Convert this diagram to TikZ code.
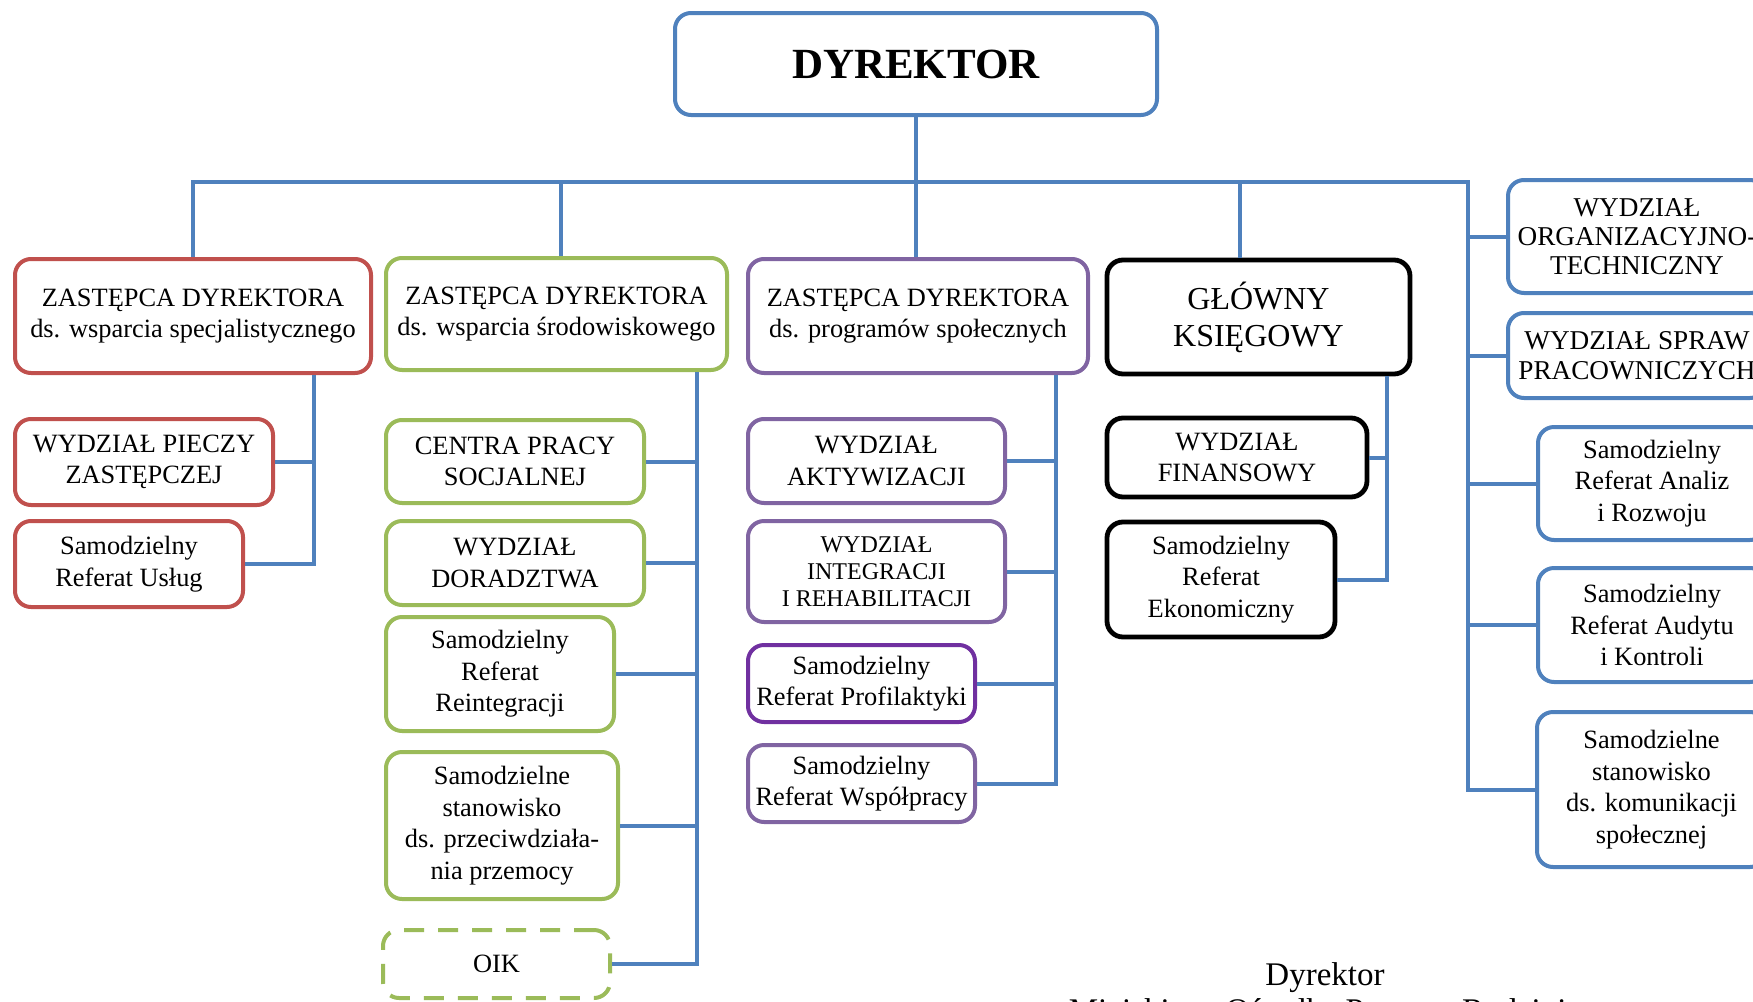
\documentclass[tikz,border=0pt]{standalone}
\usepackage{fontspec}
\setmainfont{Liberation Serif}
\definecolor{lblue}{HTML}{4F81BD}
\definecolor{cred}{HTML}{C0504D}
\definecolor{cgreen}{HTML}{9BBB59}
\definecolor{cpurple}{HTML}{8064A2}
\definecolor{cdpurple}{HTML}{7030A0}
\begin{document}
\begin{tikzpicture}[x=0.5pt,y=-0.5pt,
  box/.style={draw, line width=2pt, rounded corners=8pt, align=center, inner sep=1pt, fill=white,
    font=\fontsize{13.2}{15.8}\selectfont},
  wh/.style 2 args={minimum width=#1, minimum height=#2},
  redbox/.style={box, draw=cred},
  greenbox/.style={box, draw=cgreen},
  purplebox/.style={box, draw=cpurple},
  blackbox/.style={box, draw=black, line width=2.4pt},
  bluebox/.style={box, draw=lblue},
  conn/.style={draw=lblue, line width=2pt},
  sig/.style={font=\fontsize{16.5}{18}\selectfont, anchor=base, inner sep=0pt}
]
\useasboundingbox (0,0) rectangle (1753,1002);
\clip (0,0) rectangle (1753,1002);

% top
\node[bluebox, wh={241pt}{51pt}, font=\fontsize{21.5}{24}\selectfont\bfseries] (d) at (916,64) {DYREKTOR};

% red column
\node[redbox, wh={178pt}{57pt}] (r0) at (193,316) {ZASTĘPCA DYREKTORA\\ds. wsparcia specjalistycznego};
\node[redbox, wh={129pt}{43pt}] (r1) at (144,462) {WYDZIAŁ PIECZY\\ZASTĘPCZEJ};
\node[redbox, wh={114pt}{43pt}] (r2) at (129,564) {Samodzielny\\Referat Usług};

% green column
\node[greenbox, wh={170.5pt}{56pt}] (g0) at (556.5,314) {ZASTĘPCA DYREKTORA\\ds. wsparcia środowiskowego};
\node[greenbox, wh={129pt}{41.5pt}] (g1) at (515,461.5) {CENTRA PRACY\\SOCJALNEJ};
\node[greenbox, wh={129pt}{42pt}] (g2) at (515,563) {WYDZIAŁ\\DORADZTWA};
\node[greenbox, wh={114pt}{57pt}] (g3) at (500,674) {Samodzielny\\Referat\\Reintegracji};
\node[greenbox, wh={116pt}{73.5pt}] (g4) at (502,825.5) {Samodzielne\\stanowisko\\ds. przeciwdziała-\\nia przemocy};
\node[greenbox, wh={113.5pt}{34pt}, dash pattern=on 10pt off 7pt] (g5) at (496.5,964) {OIK};

% purple column
\node[purplebox, wh={170pt}{57pt}] (p0) at (918,316) {ZASTĘPCA DYREKTORA\\ds. programów społecznych};
\node[purplebox, wh={128.5pt}{42pt}] (p1) at (876.5,461) {WYDZIAŁ\\AKTYWIZACJI};
\node[purplebox, wh={128.5pt}{50.5pt}, font=\fontsize{12}{13.6}\selectfont] (p2) at (876.5,571.5) {WYDZIAŁ\\INTEGRACJI\\I REHABILITACJI};
\node[box, draw=cdpurple, wh={113.5pt}{38.5pt}] (p3) at (861.5,683.5) {Samodzielny\\Referat Profilaktyki};
\node[purplebox, wh={113.5pt}{38.5pt}] (p4) at (861.5,783.5) {Samodzielny\\Referat Współpracy};

% black column
\node[blackbox, wh={151.5pt}{57pt}, font=\fontsize{16}{18.5}\selectfont] (b0) at (1258.5,317) {GŁÓWNY\\KSIĘGOWY};
\node[blackbox, wh={130pt}{39.5pt}] (b1) at (1237,457.5) {WYDZIAŁ\\FINANSOWY};
\node[blackbox, wh={114pt}{57.5pt}] (b2) at (1221,579.5) {Samodzielny\\Referat\\Ekonomiczny};

% right blue column
\node[bluebox, wh={129pt}{56.5pt}, font=\fontsize{13.6}{14.5}\selectfont] (o1) at (1637,236.5) {WYDZIAŁ\\ORGANIZACYJNO-\\TECHNICZNY};
\node[bluebox, wh={129pt}{42.5pt}, font=\fontsize{13.6}{15}\selectfont] (o2) at (1637,355.5) {WYDZIAŁ SPRAW\\PRACOWNICZYCH};
\node[bluebox, wh={114pt}{56.5pt}] (o3) at (1652,483.5) {Samodzielny\\Referat Analiz\\i Rozwoju};
\node[bluebox, wh={114pt}{57pt}] (o4) at (1652,625) {Samodzielny\\Referat Audytu\\i Kontroli};
\node[bluebox, wh={114.5pt}{77.5pt}] (o5) at (1651.5,789.5) {Samodzielne\\stanowisko\\ds. komunikacji\\społecznej};

% signature
\node[sig] (s1) at (1325,985) {Dyrektor};
\node[sig] (s2) at (1325,1021) {Miejskiego Ośrodka Pomocy Rodzinie};

% connectors
\coordinate (busM) at (916,182);
\coordinate (busR) at (1468,182);
\coordinate (gdrop) at (561,182);
\coordinate (bdrop) at (1240,182);
\coordinate (rx) at (314,0);
\coordinate (gx) at (697,0);
\coordinate (px) at (1056,0);
\coordinate (bx) at (1387,0);

\draw[conn] (d.south) -- (d.south |- p0.north);
\draw[conn] (r0.north) |- (busR) |- (o5.west);
\draw[conn] (gdrop) -- (gdrop |- g0.north);
\draw[conn] (bdrop) -- (bdrop |- b0.north);
\draw[conn] (o1.west) -- (o1.west -| busR);
\draw[conn] (o2.west) -- (o2.west -| busR);
\draw[conn] (o3.west) -- (o3.west -| busR);
\draw[conn] (o4.west) -- (o4.west -| busR);

\draw[conn] (r0.south -| rx) |- (r2.east);
\draw[conn] (r1.east) -- (r1.east -| rx);

\draw[conn] (g0.south -| gx) |- (g5.east);
\draw[conn] (g1.east) -- (g1.east -| gx);
\draw[conn] (g2.east) -- (g2.east -| gx);
\draw[conn] (g3.east) -- (g3.east -| gx);
\draw[conn] (g4.east) -- (g4.east -| gx);

\draw[conn] (p0.south -| px) |- (p4.east);
\draw[conn] (p1.east) -- (p1.east -| px);
\draw[conn] (p2.east) -- (p2.east -| px);
\draw[conn] (p3.east) -- (p3.east -| px);

\draw[conn] (b0.south -| bx) |- (b2.east);
\draw[conn] (b1.east) -- (b1.east -| bx);
\end{tikzpicture}
\end{document}
